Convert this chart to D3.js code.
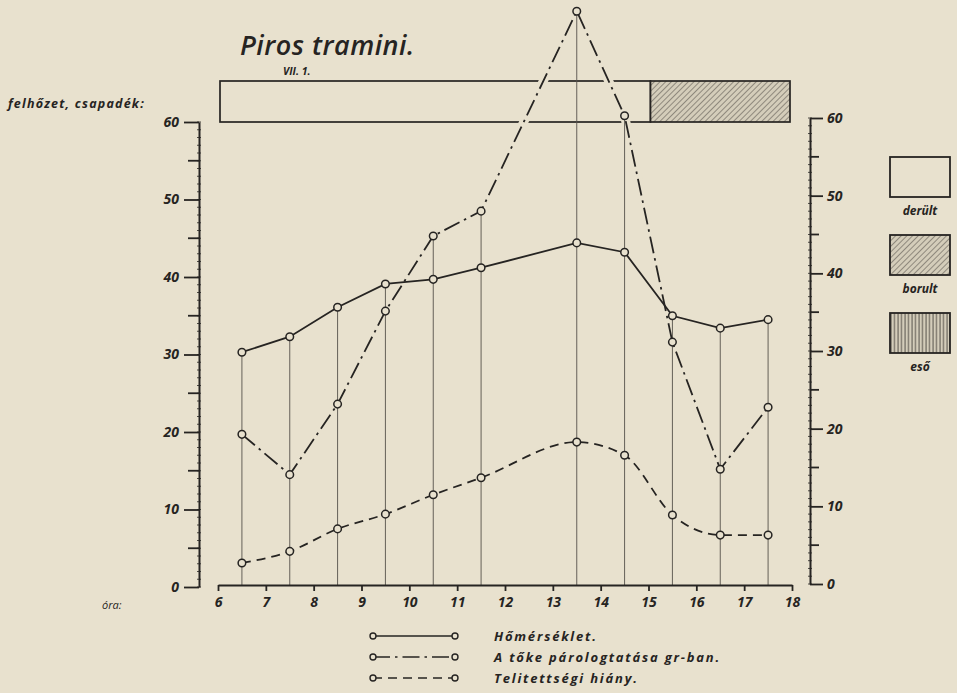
<!DOCTYPE html>
<html>
<head>
<meta charset="utf-8">
<script src="https://cdn.jsdelivr.net/npm/d3@7"></script>
<style>
  body { margin: 0; background: #e8e1ce; }
  svg { display: block; }
  text { font-family: "Open Sans", "DejaVu Sans", sans-serif; font-style: italic; fill: #262422; }
</style>
</head>
<body>
<svg id="chart" width="957" height="693"></svg>
<script>
// hours where readings were taken
const hours = [6.5, 7.5, 8.5, 9.5, 10.5, 11.5, 13.5, 14.5, 15.5, 16.5, 17.5];
// Hőmérséklet
const temperature = [30.3, 32.3, 36.1, 39.1, 39.7, 41.2, 44.4, 43.2, 35.0, 33.4, 34.5];
// A tőke párologtatása gr-ban
const transpiration = [19.7, 14.5, 23.6, 35.6, 45.3, 48.5, 74.3, 60.8, 31.6, 15.2, 23.2];
// Telítettségi hiány
const deficit = [3.1, 4.6, 7.5, 9.4, 11.9, 14.1, 18.7, 17.0, 9.3, 6.7, 6.7];

const hourTicks = [6, 7, 8, 9, 10, 11, 12, 13, 14, 15, 16, 17, 18];
const valueTicks = [0, 10, 20, 30, 40, 50, 60];
const cloudSegments = [
  { from: 6, to: 15, kind: "clear" },
  { from: 15, to: 18, kind: "overcast" }
];
const cloudLegend = [
  { label: "derült", kind: "clear" },
  { label: "borult", kind: "overcast" },
  { label: "eső", kind: "rain" }
];
const seriesLegend = ["Hőmérséklet.", "A tőke párologtatása gr-ban.", "Telitettségi hiány."];

const ink = "#262422";
const paper = "#e8e1ce";

const svg = d3.select("#chart");
svg.append("rect").attr("width", 957).attr("height", 693).attr("fill", paper);

// hatch patterns
const defs = svg.append("defs");
const diag = defs.append("pattern").attr("id", "diag")
  .attr("patternUnits", "userSpaceOnUse").attr("width", 4).attr("height", 4)
  .attr("patternTransform", "rotate(45)");
diag.append("rect").attr("width", 4).attr("height", 4).attr("fill", "#d4cdba");
diag.append("line").attr("x1", 0).attr("y1", 0).attr("x2", 0).attr("y2", 4)
  .attr("stroke", "#4a4640").attr("stroke-width", 1);
const vert = defs.append("pattern").attr("id", "vert")
  .attr("patternUnits", "userSpaceOnUse").attr("width", 3.5).attr("height", 4);
vert.append("rect").attr("width", 3.5).attr("height", 4).attr("fill", "#d4cdba");
vert.append("line").attr("x1", 1).attr("y1", 0).attr("x2", 1).attr("y2", 4)
  .attr("stroke", "#4a4640").attr("stroke-width", 0.9);
const fillFor = { clear: "none", overcast: "url(#diag)", rain: "url(#vert)" };

const x = d3.scaleLinear().domain([6, 18]).range([218, 792]);
const y = d3.scaleLinear().domain([0, 60]).range([587, 122]);
const yR = d3.scaleLinear().domain([0, 60]).range([584, 118]);

// titles and side labels
svg.append("text").attr("x", 240).attr("y", 55).attr("font-size", 27)
  .attr("font-weight", 600).attr("letter-spacing", 0.5).text("Piros tramini.");
svg.append("text").attr("x", 283).attr("y", 75).attr("font-size", 10.5)
  .attr("font-weight", "bold").text("VII. 1.");
svg.append("text").attr("x", 8).attr("y", 108).attr("font-size", 12.5)
  .attr("font-weight", "bold").attr("letter-spacing", 1.2).text("felhőzet, csapadék:");
svg.append("text").attr("x", 102).attr("y", 609).attr("font-size", 11).text("óra:");

// cloud bar
const barTop = 81, barBottom = 122;
svg.append("g").selectAll("rect").data(cloudSegments).join("rect")
  .attr("x", d => x(d.from) + 2)
  .attr("width", d => x(d.to) - x(d.from) - (d.to === 18 ? 4 : 0))
  .attr("y", barTop).attr("height", barBottom - barTop)
  .attr("fill", d => fillFor[d.kind])
  .attr("stroke", ink).attr("stroke-width", 1.7);

// gap in the bar where the transpiration line crosses it
const pts = s => hours.map((h, i) => [h, s[i]]);
const linear = d3.line().x(d => x(d[0])).y(d => y(d[1]));
const smooth = d3.line().x(d => x(d[0])).y(d => y(d[1])).curve(d3.curveMonotoneX);
svg.append("path").attr("d", linear(pts(transpiration)))
  .attr("fill", "none").attr("stroke", paper).attr("stroke-width", 9);

// drop lines
svg.append("g").selectAll("line").data(hours).join("line")
  .attr("x1", d => x(d)).attr("x2", d => x(d))
  .attr("y1", (d, i) => y(Math.max(temperature[i], transpiration[i], deficit[i])))
  .attr("y2", y(0) - 2)
  .attr("stroke", "#55514b").attr("stroke-width", 0.9);

// left axis
const left = svg.append("g").attr("transform", "translate(199,0)");
left.call(d3.axisLeft(y).tickValues(valueTicks).tickSize(15).tickPadding(5).tickSizeOuter(0));
left.append("g").selectAll("line").data(d3.range(5, 60, 10)).join("line")
  .attr("x1", -11).attr("x2", 0).attr("y1", d => y(d)).attr("y2", d => y(d));
left.append("g").selectAll("line").data(d3.range(0, 61)).join("line")
  .attr("x1", -2).attr("x2", 2).attr("y1", d => y(d)).attr("y2", d => y(d)).attr("stroke-width", 0.8);

// right axis
const right = svg.append("g").attr("transform", "translate(810,0)");
right.call(d3.axisRight(yR).tickValues(valueTicks).tickSize(13).tickPadding(4).tickSizeOuter(0));
right.append("g").selectAll("line").data(d3.range(5, 60, 10)).join("line")
  .attr("x1", 0).attr("x2", 9).attr("y1", d => yR(d)).attr("y2", d => yR(d));
right.append("g").selectAll("line").data(d3.range(0, 61)).join("line")
  .attr("x1", -2).attr("x2", 2).attr("y1", d => yR(d)).attr("y2", d => yR(d)).attr("stroke-width", 0.8);

// bottom axis
const bottom = svg.append("g").attr("transform", "translate(0,585)");
bottom.call(d3.axisBottom(x).tickValues(hourTicks).tickSize(6).tickPadding(6).tickSizeOuter(0));

[left, right, bottom].forEach(g => {
  g.select(".domain").attr("stroke", ink).attr("stroke-width", 2);
  g.selectAll("line").attr("stroke", ink).attr("stroke-width", function () {
    return d3.select(this).attr("stroke-width") || 1.8;
  });
  g.selectAll("text").attr("font-size", 14).attr("font-weight", "bold")
    .attr("font-family", "'Open Sans', sans-serif").attr("font-style", "italic").attr("fill", ink);
});

// series
const series = [
  { values: temperature, gen: linear, dash: null },
  { values: transpiration, gen: linear, dash: "17,5,2.5,5" },
  { values: deficit, gen: smooth, dash: "9,6" }
];
series.forEach(s => {
  svg.append("path").attr("d", s.gen(pts(s.values)))
    .attr("fill", "none").attr("stroke", ink).attr("stroke-width", 1.8)
    .attr("stroke-dasharray", s.dash);
  svg.append("g").selectAll("circle").data(pts(s.values)).join("circle")
    .attr("cx", d => x(d[0])).attr("cy", d => y(d[1])).attr("r", 3.8)
    .attr("fill", paper).attr("stroke", ink).attr("stroke-width", 1.5);
});

// cloud legend on the right
const cl = svg.append("g").selectAll("g").data(cloudLegend).join("g")
  .attr("transform", (d, i) => `translate(890,${157 + i * 78})`);
cl.append("rect").attr("width", 60).attr("height", 40)
  .attr("fill", d => fillFor[d.kind] === "none" ? paper : fillFor[d.kind])
  .attr("stroke", ink).attr("stroke-width", 1.8);
cl.append("text").attr("x", 30).attr("y", 58).attr("text-anchor", "middle")
  .attr("font-size", 12).attr("font-weight", "bold").text(d => d.label);

// series legend at the bottom
const sl = svg.append("g").selectAll("g").data(series).join("g")
  .attr("transform", (d, i) => `translate(0,${636 + i * 21})`);
sl.append("line").attr("x1", 373).attr("x2", 455)
  .attr("stroke", ink).attr("stroke-width", 1.6).attr("stroke-dasharray", d => d.dash);
sl.selectAll("circle").data([373, 455]).join("circle")
  .attr("cx", d => d).attr("cy", 0).attr("r", 3)
  .attr("fill", paper).attr("stroke", ink).attr("stroke-width", 1.4);
sl.append("text").attr("x", 494).attr("y", 5).attr("font-size", 13)
  .attr("font-weight", "bold").attr("letter-spacing", 1.8)
  .text((d, i) => seriesLegend[i]);
</script>
</body>
</html>
